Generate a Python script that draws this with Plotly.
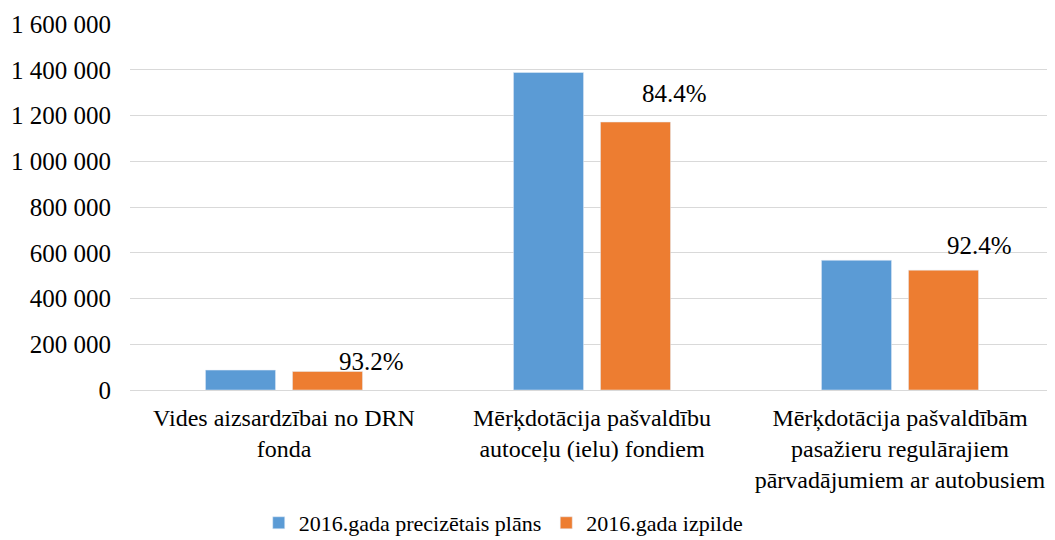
import plotly.graph_objects as go

categories = [
    "Vides aizsardzībai no DRN<br>fonda",
    "Mērķdotācija pašvaldību<br>autoceļu (ielu) fondiem",
    "Mērķdotācija pašvaldībām<br>pasažieru regulārajiem<br>pārvadājumiem ar autobusiem",
]
plan = [87000, 1388000, 567000]
actual = [81100, 1171500, 524000]
pct_labels = ["93.2%", "84.4%", "92.4%"]
# where the original put its percentage labels relative to the orange bar (px)
label_xshift = [87, 82, 79]
label_yshift = [10, 29, 25]

blue = "#5B9BD5"
orange = "#ED7D31"
font = "Liberation Serif"

fig = go.Figure()
fig.add_trace(go.Bar(x=categories, y=plan, name="2016.gada precizētais plāns",
                     marker_color=blue))
fig.add_trace(go.Bar(x=categories, y=actual, name="2016.gada izpilde",
                     marker_color=orange))

for cat, val, txt, xs, ys in zip(categories, actual, pct_labels,
                                 label_xshift, label_yshift):
    fig.add_annotation(x=cat, y=val, text=txt, showarrow=False,
                       xshift=xs, yshift=ys, yanchor="middle",
                       font=dict(family=font, size=25, color="#000000"))

# page body adds 8px around the figure, so size is 8px short of the window
fig.update_layout(
    width=1047, height=532,
    margin=dict(l=122, r=1, t=16, b=150),
    paper_bgcolor="white", plot_bgcolor="white",
    barmode="group", bargap=0.435, bargroupgap=0.195,
    separators=". ",
    font=dict(family=font, size=22, color="#000000"),
    showlegend=True,
    legend=dict(orientation="h", xref="container", yref="container",
                x=0.473, xanchor="center", y=0.032, yanchor="middle",
                font=dict(family=font, size=22, color="#000000")),
)
fig.update_yaxes(range=[0, 1600000], dtick=200000, tickformat=",d",
                 showgrid=True, gridcolor="#D9D9D9", gridwidth=1,
                 zeroline=False, showline=False, ticks="", automargin=False,
                 tickfont=dict(family=font, size=25), ticklabelstandoff=18)
fig.update_xaxes(showline=True, linecolor="#D9D9D9", ticks="", automargin=False,
                 tickfont=dict(family=font, size=24), ticklabelstandoff=6)

fig.write_html("out.html")
